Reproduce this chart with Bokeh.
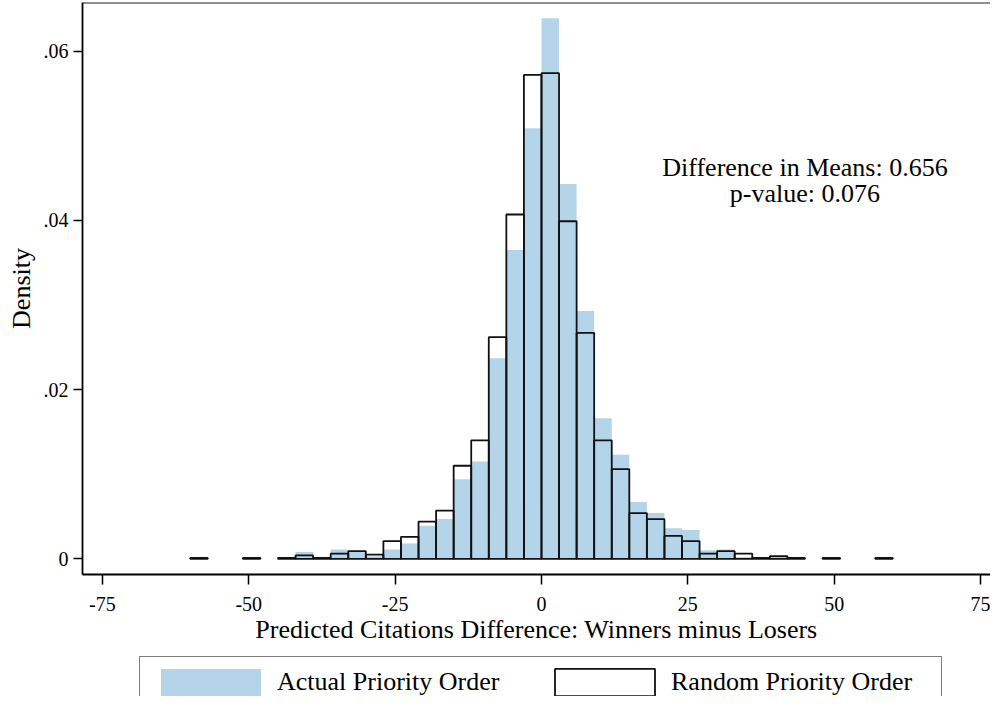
from bokeh.plotting import figure
from bokeh.layouts import column
from bokeh.models import (ColumnDataSource, Range1d, FixedTicker, CustomJSTickFormatter,
                          Legend, LegendItem, Span, Label)
from bokeh.embed import file_html
from bokeh.resources import INLINE

# ---- data (density per 3-unit bin) ----
bin_width = 3
bin_left = [-60, -51, -45, -42, -39, -36, -33, -30, -27, -24, -21, -18, -15, -12, -9, -6, -3,
            0, 3, 6, 9, 12, 15, 18, 21, 24, 27, 30, 33, 36, 39, 42, 48, 57]
actual = [0, 0.0001, 0, 0.0008, 0, 0.0011, 0.0008, 0.0003, 0.0011, 0.0018, 0.0039, 0.0047,
          0.0094, 0.0115, 0.0237, 0.0365, 0.0509, 0.0639, 0.0443, 0.0293, 0.0166, 0.0123,
          0.0067, 0.0054, 0.0036, 0.0034, 0.0010, 0.0011, 0.0002, 0, 0.0001, 0.0001, 0, 0.0001]
random_order = [0.0001, 0.0001, 0.0001, 0.0004, 0.0001, 0.0006, 0.0009, 0.0005, 0.0021, 0.0026,
                0.0044, 0.0057, 0.0110, 0.0140, 0.0262, 0.0407, 0.0572, 0.0574, 0.0399, 0.0267,
                0.0140, 0.0106, 0.0054, 0.0047, 0.0027, 0.0021, 0.0006, 0.0009, 0.0006, 0.0001,
                0.0003, 0.0001, 0.0001, 0.0001]
x_ticks = [-75, -50, -25, 0, 25, 50, 75]
y_ticks = [0, 0.02, 0.04, 0.06]
series_names = ["Actual Priority Order", "Random Priority Order"]
x_title = "Predicted Citations Difference: Winners minus Losers"
y_title = "Density"
diff_means = 0.656
p_value = 0.076

FONT = "Liberation Serif"
BLUE = "#b4d4ea"
OUTLINE = dict(fill_color=None, line_color="#111111", line_width=1.8)

src = ColumnDataSource(dict(
    left=bin_left,
    right=[b + bin_width for b in bin_left],
    actual=actual,
    rnd=random_order,
))

y_top = 0.06576
p = figure(width=990, height=648, output_backend="svg", toolbar_location=None,
           x_range=Range1d(-78.39, 76.69), y_range=Range1d(-0.001856, y_top),
           min_border_left=82, min_border_right=0, min_border_top=2, min_border_bottom=74,
           background_fill_color="white", border_fill_color="white")
p.outline_line_color = None
p.grid.visible = False

p.quad(left="left", right="right", bottom=0, top="actual", source=src,
       fill_color=BLUE, line_color=None)
p.quad(left="left", right="right", bottom=0, top="rnd", source=src, **OUTLINE)

# top border line
p.add_layout(Span(location=y_top, dimension="width", line_color="#222222", line_width=2))

# axes
for ax in (p.xaxis[0], p.yaxis[0]):
    ax.axis_line_color = "black"
    ax.axis_line_width = 1.8
    ax.major_tick_line_color = "black"
    ax.major_tick_line_width = 1.5
    ax.major_tick_in = 0
    ax.minor_tick_line_color = None
    ax.major_label_text_font = FONT
    ax.major_label_text_font_size = "20px"
    ax.major_label_text_color = "black"
    ax.axis_label_text_font = FONT
    ax.axis_label_text_font_size = "26px"
    ax.axis_label_text_font_style = "normal"
    ax.axis_label_text_color = "black"

p.xaxis.ticker = FixedTicker(ticks=x_ticks)
p.xaxis.formatter = CustomJSTickFormatter(code="return tick.toString();")
p.xaxis.major_tick_out = 10
p.xaxis.major_label_standoff = 12
p.xaxis.axis_label = x_title
p.xaxis.axis_label_standoff = 1

p.yaxis.ticker = FixedTicker(ticks=y_ticks)
p.yaxis.major_tick_out = 9
p.yaxis.major_label_standoff = 5
p.yaxis.major_label_orientation = "horizontal"
p.yaxis.formatter = CustomJSTickFormatter(
    code="return tick == 0 ? '0' : tick.toFixed(2).replace(/^0/, '');")
p.yaxis.axis_label = y_title
p.yaxis.axis_label_standoff = 5

# annotation text
p.add_layout(Label(x=45, y=0.0463, text=f"Difference in Means: {diff_means:.3f}",
                   text_align="center", text_baseline="middle", text_font=FONT,
                   text_font_size="26px", text_color="black"))
p.add_layout(Label(x=45, y=0.0432, text=f"p-value: {p_value:.3f}",
                   text_align="center", text_baseline="middle", text_font=FONT,
                   text_font_size="26px", text_color="black"))

# legend strip (separate figure under the plot; its bars lie outside its view)
pl = figure(width=990, height=48, output_backend="svg", toolbar_location=None,
            x_range=Range1d(100, 101), y_range=Range1d(1, 2),
            x_axis_location=None, y_axis_location=None,
            min_border_left=0, min_border_right=0, min_border_top=0, min_border_bottom=0,
            background_fill_color="white", border_fill_color="white")
pl.outline_line_color = None
pl.grid.visible = False
la = pl.quad(left="left", right="right", bottom=0, top="actual", source=src,
             fill_color=BLUE, line_color=None)
lr = pl.quad(left="left", right="right", bottom=0, top="rnd", source=src, **OUTLINE)

legend = Legend(items=[LegendItem(label=series_names[0], renderers=[la]),
                       LegendItem(label=series_names[1], renderers=[lr])],
                orientation="horizontal", location=(57, -12),
                glyph_width=125, glyph_height=34, label_standoff=4, label_width=262,
                spacing=3, padding=8, margin=0,
                label_text_font=FONT, label_text_font_size="26px", label_text_color="black",
                border_line_color="black", border_line_width=1.5,
                background_fill_color="white", background_fill_alpha=1.0)
pl.add_layout(legend, "center")

layout = column(p, pl, spacing=0)
open("out.html", "w").write(file_html(layout, INLINE))
